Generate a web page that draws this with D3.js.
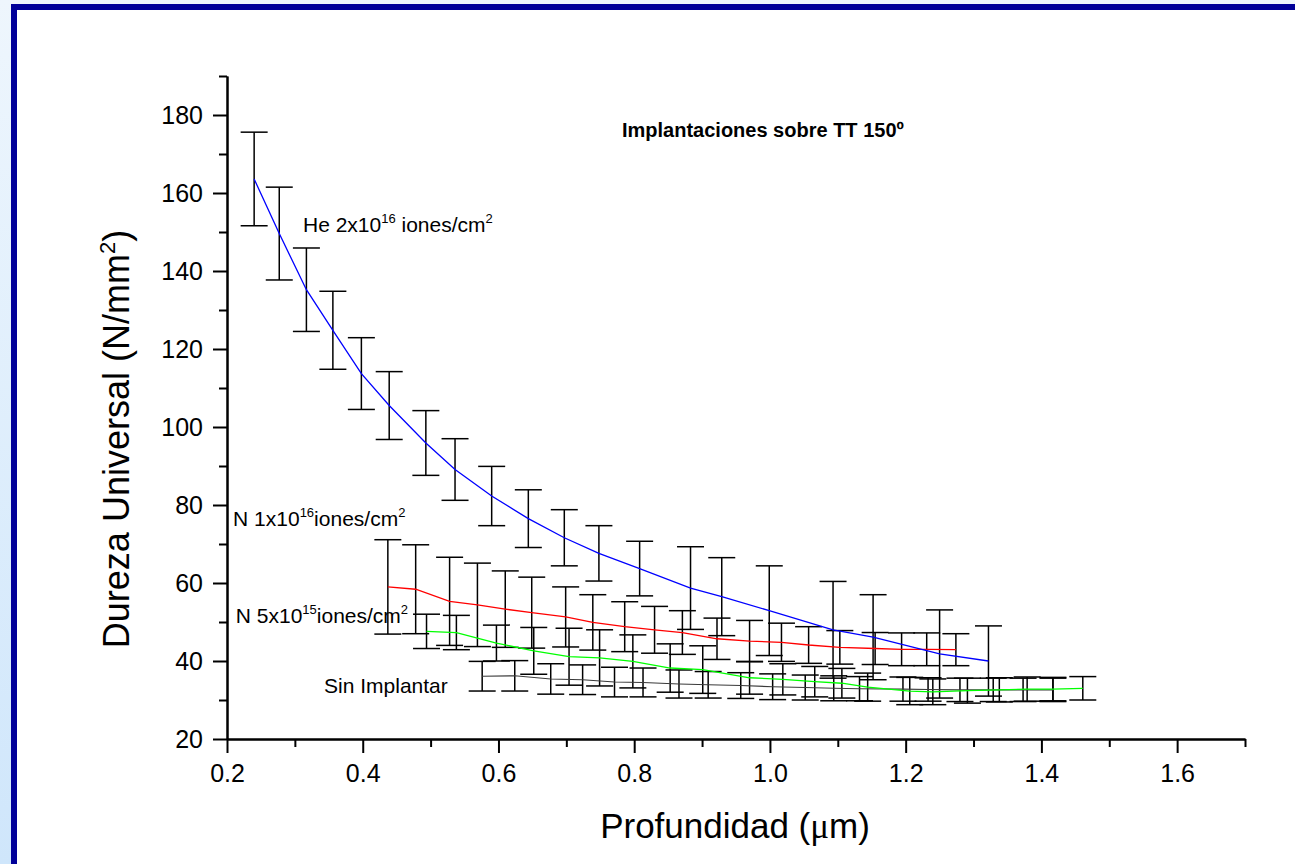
<!DOCTYPE html>
<html>
<head>
<meta charset="utf-8">
<script src="https://cdnjs.cloudflare.com/ajax/libs/d3/7.8.5/d3.min.js"></script>
<style>
  html, body { margin: 0; padding: 0; }
  body {
    width: 1295px;
    height: 864px;
    overflow: hidden;
    background: linear-gradient(#eef6fd, #cfe6fb);
  }
  svg { display: block; }
  text { font-family: "Liberation Sans", Arial, sans-serif; fill: #000; }
</style>
</head>
<body>
<svg id="chart" width="1295" height="864"></svg>
<script>
"use strict";

/******************************************************* Data *******************************************************/

// He 2x10^16 iones/cm2 (blue)
const HE_X = [0.240, 0.277, 0.317, 0.356, 0.398, 0.439, 0.493, 0.536, 0.590, 0.644, 0.697, 0.748, 0.808, 0.883, 0.929, 0.999, 1.093, 1.152, 1.250, 1.322];
const HE_Y = [163.6, 149.6, 135.2, 124.8, 113.7, 105.5, 95.9, 89.1, 82.3, 76.5, 71.6, 67.6, 63.7, 58.7, 56.5, 52.9, 48.0, 46.1, 41.8, 40.0];
const HE_ERR = [12.0, 11.9, 10.7, 10.0, 9.2, 8.7, 8.3, 7.9, 7.6, 7.4, 7.2, 7.1, 7.0, 10.6, 10.0, 11.5, 12.4, 10.9, 11.3, 9.0];

// N 1x10^16 iones/cm2 (red)
const N16_X = [0.437, 0.478, 0.528, 0.569, 0.610, 0.649, 0.699, 0.739, 0.786, 0.830, 0.871, 0.922, 0.970, 1.017, 1.057, 1.103, 1.155, 1.194, 1.231, 1.274];
const N16_Y = [59.0, 58.4, 55.3, 54.4, 53.3, 52.4, 51.3, 49.9, 48.8, 48.0, 47.3, 45.7, 45.1, 44.8, 44.1, 43.5, 43.2, 43.0, 43.0, 42.9];
const N16_ERR = [12.1, 11.4, 11.3, 10.7, 9.8, 9.1, 7.7, 7.1, 6.4, 6.0, 5.6, 5.3, 5.3, 4.9, 4.7, 4.3, 4.1, 4.2, 4.2, 4.1];

// N 5x10^15 iones/cm2 (green)
const N15_X = [0.494, 0.538, 0.597, 0.652, 0.704, 0.749, 0.798, 0.853, 0.901, 0.970, 1.019, 1.066, 1.106, 1.144, 1.206, 1.240, 1.291, 1.338, 1.379, 1.417, 1.461];
const N15_Y = [47.6, 47.3, 44.6, 42.6, 41.1, 40.8, 39.9, 38.2, 37.8, 35.7, 35.3, 34.7, 34.3, 33.3, 32.3, 32.1, 32.4, 32.6, 32.8, 32.8, 33.0];
const N15_ERR = [4.4, 4.4, 4.6, 6.0, 7.3, 7.2, 6.8, 6.2, 6.1, 4.2, 4.0, 3.9, 3.8, 3.6, 3.5, 3.3, 3.2, 3.1, 3.1, 3.0, 3.0];

// Sin Implantar (black)
const SIN_X = [0.576, 0.624, 0.677, 0.724, 0.771, 0.813, 0.866, 0.909, 0.957, 1.004, 1.052, 1.094, 1.132, 1.196, 1.233, 1.280, 1.329, 1.373, 1.417];
const SIN_Y = [36.1, 36.2, 35.4, 35.2, 34.6, 34.5, 34.1, 33.9, 33.7, 33.4, 33.2, 33.0, 32.9, 32.8, 32.7, 32.6, 32.6, 32.6, 32.6];
const SIN_ERR = [3.8, 3.9, 3.9, 3.8, 3.8, 3.7, 3.6, 3.4, 3.3, 3.3, 3.2, 3.2, 3.1, 3.1, 3.0, 3.0, 3.0, 3.0, 3.0];

// Tick values
const X_MAJOR = [0.2, 0.4, 0.6, 0.8, 1.0, 1.2, 1.4, 1.6];
const X_MINOR = [0.3, 0.5, 0.7, 0.9, 1.1, 1.3, 1.5, 1.7];
const Y_MAJOR = [20, 40, 60, 80, 100, 120, 140, 160, 180];
const Y_MINOR = [30, 50, 70, 90, 110, 130, 150, 170, 190];

// Texts
const TITLE = "Implantaciones sobre TT 150º";
const X_TITLE = "Profundidad (";
const Y_TITLE = "Dureza Universal (N/mm";

/******************************************************* Layout *******************************************************/

const SVG_ID = "#chart";
const LEFT = 227;
const RIGHT = 1245;
const TOP = 76;
const BOTTOM = 739;
const CAP_HALF = 13.5; // half width of error bar caps

const SERIES = [
  { x: SIN_X, y: SIN_Y, err: SIN_ERR, color: "#3a3a3a", width: 1.1 },
  { x: N15_X, y: N15_Y, err: N15_ERR, color: "#00ff00", width: 1.3 },
  { x: N16_X, y: N16_Y, err: N16_ERR, color: "#ff0000", width: 1.3 },
  { x: HE_X, y: HE_Y, err: HE_ERR, color: "#0000ff", width: 1.3 }
];

const SVG = d3.select(SVG_ID);

// Frame of the slide
SVG.append("rect")
  .attr("x", 14)
  .attr("y", 7)
  .attr("width", 1400)
  .attr("height", 1000)
  .attr("fill", "#fff")
  .attr("stroke", "#000099")
  .attr("stroke-width", 6);

// Scales
const X_SCALE = d3.scaleLinear().domain([0.2, 1.7]).range([LEFT, RIGHT]);
const Y_SCALE = d3.scaleLinear().domain([20, 190]).range([BOTTOM, TOP]);

/******************************************************* Error bars and lines *******************************************************/

const G_DATA = SVG.append("g").classed("g-data", true);

SERIES.forEach(function(s) {
  const pts = s.x.map(function(x, i) {
    return { x: x, y: s.y[i], e: s.err[i] };
  });

  const gBars = G_DATA.append("g")
    .attr("stroke", "#000")
    .attr("stroke-width", 1.5)
    .attr("fill", "none");

  pts.forEach(function(d) {
    const cx = X_SCALE(d.x);
    const y0 = Y_SCALE(d.y - d.e);
    const y1 = Y_SCALE(d.y + d.e);
    gBars.append("line").attr("x1", cx).attr("x2", cx).attr("y1", y0).attr("y2", y1);
    gBars.append("line").attr("x1", cx - CAP_HALF).attr("x2", cx + CAP_HALF).attr("y1", y0).attr("y2", y0);
    gBars.append("line").attr("x1", cx - CAP_HALF).attr("x2", cx + CAP_HALF).attr("y1", y1).attr("y2", y1);
  });

  s.pts = pts;
});

const LINE = d3.line()
  .x(function(d) { return X_SCALE(d.x); })
  .y(function(d) { return Y_SCALE(d.y); });

SERIES.forEach(function(s) {
  G_DATA.append("path")
    .datum(s.pts)
    .attr("fill", "none")
    .attr("stroke", s.color)
    .attr("stroke-width", s.width)
    .attr("d", LINE);
});

/******************************************************* Axes *******************************************************/

function styleAxis(g) {
  g.selectAll("path, line").attr("stroke", "#000").attr("stroke-width", 2);
  g.selectAll("text")
    .style("font-family", "'Liberation Sans', Arial, sans-serif")
    .style("font-size", "25px")
    .attr("fill", "#000");
}

// X axis
SVG.append("g")
  .attr("transform", "translate(0," + BOTTOM + ")")
  .call(d3.axisBottom(X_SCALE).tickValues(X_MINOR).tickSize(8).tickSizeOuter(0).tickFormat(""))
  .call(styleAxis);

SVG.append("g")
  .attr("transform", "translate(0," + BOTTOM + ")")
  .call(d3.axisBottom(X_SCALE).tickValues(X_MAJOR).tickSize(14).tickSizeOuter(0).tickPadding(11).tickFormat(d3.format(".1f")))
  .call(styleAxis);

// Y axis
SVG.append("g")
  .attr("transform", "translate(" + LEFT + ",0)")
  .call(d3.axisLeft(Y_SCALE).tickValues(Y_MINOR).tickSize(8).tickSizeOuter(0).tickFormat(""))
  .call(styleAxis);

SVG.append("g")
  .attr("transform", "translate(" + LEFT + ",0)")
  .call(d3.axisLeft(Y_SCALE).tickValues(Y_MAJOR).tickSize(14).tickSizeOuter(0).tickPadding(10))
  .call(styleAxis);

/******************************************************* Titles *******************************************************/

// X title
const xt = SVG.append("text")
  .attr("x", 735)
  .attr("y", 838)
  .attr("text-anchor", "middle")
  .style("font-size", "35px");
xt.append("tspan").text(X_TITLE);
xt.append("tspan").style("font-family", "'Liberation Serif', serif").text("μ");
xt.append("tspan").text("m)");

// Y title
const yt = SVG.append("text")
  .attr("transform", "translate(129,439) rotate(-90)")
  .attr("text-anchor", "middle")
  .style("font-size", "36px");
yt.append("tspan").text(Y_TITLE);
yt.append("tspan").attr("dy", -14).style("font-size", "22px").text("2");
yt.append("tspan").attr("dy", 14).text(")");

// Plot title
SVG.append("text")
  .attr("x", X_SCALE(0.782))
  .attr("y", Y_SCALE(174.3))
  .style("font-size", "20px")
  .style("font-weight", "bold")
  .text(TITLE);

// Series labels, anchored in data units
const LABELS = [
  { pre: "He 2x10", exp: "16", post: " iones/cm", x: 0.312, y: 149.9 },
  { pre: "N 1x10", exp: "16", post: "iones/cm", x: 0.209, y: 74.7 },
  { pre: "N 5x10", exp: "15", post: "iones/cm", x: 0.213, y: 49.8 }
];

LABELS.forEach(function(l) {
  const t = SVG.append("text")
    .attr("x", X_SCALE(l.x))
    .attr("y", Y_SCALE(l.y))
    .style("font-size", "21px");
  t.append("tspan").text(l.pre);
  t.append("tspan").attr("dy", -9).style("font-size", "13px").text(l.exp);
  t.append("tspan").attr("dy", 9).text(l.post);
  t.append("tspan").attr("dy", -9).style("font-size", "13px").text("2");
});

SVG.append("text")
  .attr("x", X_SCALE(0.343))
  .attr("y", Y_SCALE(31.8))
  .style("font-size", "21px")
  .text("Sin Implantar");
</script>
</body>
</html>
